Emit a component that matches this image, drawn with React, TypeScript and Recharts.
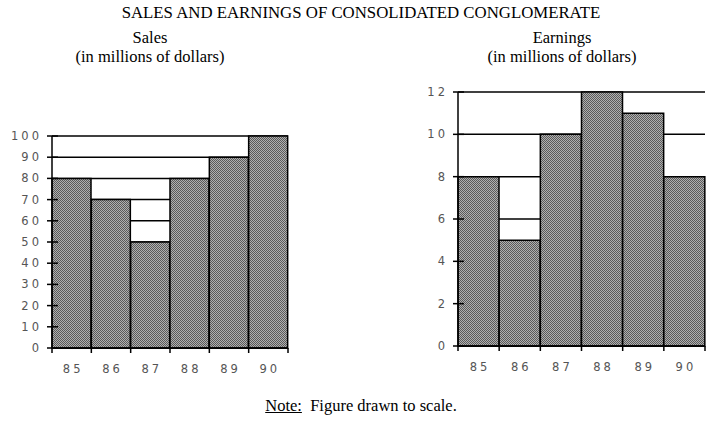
import React from 'react';
import { BarChart, Bar, XAxis, YAxis, CartesianGrid } from 'recharts';

const years = ['85', '86', '87', '88', '89', '90'];
const salesValues = [80, 70, 50, 80, 90, 100];
const earningsValues = [8, 5, 10, 12, 11, 8];
const salesTicks = [0, 10, 20, 30, 40, 50, 60, 70, 80, 90, 100];
const earningsTicks = [0, 2, 4, 6, 8, 10, 12];

const salesData = years.map((y, i) => ({ year: y, value: salesValues[i] }));
const earningsData = years.map((y, i) => ({ year: y, value: earningsValues[i] }));

const TICK_COLOR = '#555';
const TICK_FONT = '"DejaVu Sans", sans-serif';

const makeXTick = (bandWidth: number, count: number) => (props: any) => {
  const { x, y, payload, index } = props;
  const left = x - bandWidth / 2;
  const right = x + bandWidth / 2;
  return (
    <g>
      <line x1={left} y1={y} x2={left} y2={y + 5} stroke="#000" strokeWidth={1.5} />
      {index === count - 1 && (
        <line x1={right} y1={y} x2={right} y2={y + 5} stroke="#000" strokeWidth={1.5} />
      )}
      <text
        x={x + 1.5}
        y={y + 25}
        textAnchor="middle"
        fill={TICK_COLOR}
        fontSize={11.5}
        fontFamily={TICK_FONT}
        letterSpacing={3}
      >
        {payload.value}
      </text>
    </g>
  );
};

const YTick = (props: any) => {
  const { x, y, payload } = props;
  return (
    <g>
      <line x1={x - 5} y1={y} x2={x + 6} y2={y} stroke="#000" strokeWidth={1.5} />
      <text
        x={x - 10}
        y={y + 4}
        textAnchor="end"
        fill={TICK_COLOR}
        fontSize={11.5}
        fontFamily={TICK_FONT}
        letterSpacing={3}
      >
        {payload.value}
      </text>
    </g>
  );
};

const serif = '"Liberation Serif", "Times New Roman", serif';

const Label = ({
  text,
  cx,
  top,
  size = 16.5,
  lineHeight = 19,
}: {
  text: React.ReactNode;
  cx: number;
  top: number;
  size?: number;
  lineHeight?: number;
}) => (
  <div
    style={{
      position: 'absolute',
      left: cx - 250,
      top,
      width: 500,
      lineHeight: `${lineHeight}px`,
      textAlign: 'center',
      fontFamily: serif,
      fontSize: size,
      color: '#000',
      whiteSpace: 'nowrap',
    }}
  >
    {text}
  </div>
);

export default function App() {
  const leftPlotW = 236;
  const rightPlotW = 247;
  return (
    <div style={{ position: 'absolute', left: 0, top: 0, width: 725, height: 421, background: '#fff', overflow: 'hidden' }}>
      <svg width={0} height={0} style={{ position: 'absolute' }}>
        <defs>
          <pattern id="stipple" x={0} y={0} width={2} height={2} patternUnits="userSpaceOnUse">
            <rect x={0} y={0} width={2} height={2} fill="#b0b0b0" />
            <rect x={0} y={0} width={1} height={1} fill="#5a5a5a" />
            <rect x={1} y={1} width={1} height={1} fill="#5a5a5a" />
          </pattern>
        </defs>
      </svg>

      <Label text="SALES AND EARNINGS OF CONSOLIDATED CONGLOMERATE" cx={361} top={3} size={16.8} />
      <Label
        text={
          <>
            Sales
            <br />
            (in millions of dollars)
          </>
        }
        cx={150}
        top={28}
      />
      <Label
        text={
          <>
            Earnings
            <br />
            (in millions of dollars)
          </>
        }
        cx={562}
        top={28}
      />
      <Label
        text={
          <span>
            <span style={{ textDecoration: 'underline' }}>Note:</span>
            {'\u00a0\u00a0Figure drawn to scale.'}
          </span>
        }
        cx={361}
        top={396}
      />

      <div style={{ position: 'absolute', left: 0, top: 0 }}>
        <BarChart
          width={300}
          height={421}
          data={salesData}
          margin={{ top: 136, right: 12, bottom: 43, left: 0 }}
          barCategoryGap={0}
        >
          <CartesianGrid vertical={false} stroke="#000" strokeWidth={1.5} />
          <XAxis
            dataKey="year"
            height={30}
            tickLine={false}
            tickSize={0}
            tickMargin={0}
            axisLine={{ stroke: '#000', strokeWidth: 1.5 }}
            tick={makeXTick(leftPlotW / years.length, years.length)}
            interval={0}
          />
          <YAxis
            width={52}
            domain={[0, 100]}
            ticks={salesTicks}
            interval={0}
            tickLine={false}
            tickSize={0}
            tickMargin={0}
            axisLine={{ stroke: '#000', strokeWidth: 1.5 }}
            tick={<YTick />}
          />
          <Bar dataKey="value" fill="url(#stipple)" stroke="#000" strokeWidth={1.5} isAnimationActive={false} />
        </BarChart>
      </div>

      <div style={{ position: 'absolute', left: 400, top: 0 }}>
        <BarChart
          width={325}
          height={421}
          data={earningsData}
          margin={{ top: 92, right: 20, bottom: 45, left: 0 }}
          barCategoryGap={0}
        >
          <CartesianGrid vertical={false} stroke="#000" strokeWidth={1.5} />
          <XAxis
            dataKey="year"
            height={30}
            tickLine={false}
            tickSize={0}
            tickMargin={0}
            axisLine={{ stroke: '#000', strokeWidth: 1.5 }}
            tick={makeXTick(rightPlotW / years.length, years.length)}
            interval={0}
          />
          <YAxis
            width={58}
            domain={[0, 12]}
            ticks={earningsTicks}
            interval={0}
            tickLine={false}
            tickSize={0}
            tickMargin={0}
            axisLine={{ stroke: '#000', strokeWidth: 1.5 }}
            tick={<YTick />}
          />
          <Bar dataKey="value" fill="url(#stipple)" stroke="#000" strokeWidth={1.5} isAnimationActive={false} />
        </BarChart>
      </div>
    </div>
  );
}
